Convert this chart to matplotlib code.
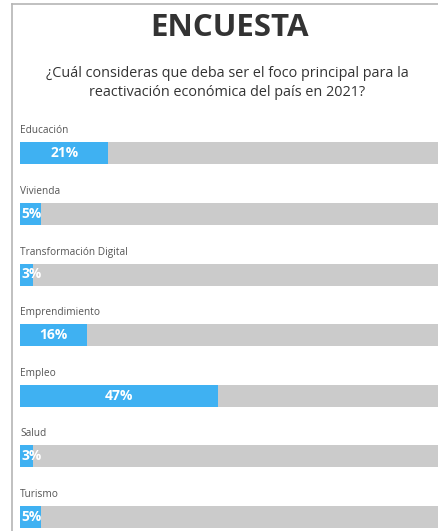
import matplotlib
matplotlib.use('Agg')
import matplotlib.pyplot as plt
from matplotlib.lines import Line2D

plt.rcParams['font.family'] = ['Open Sans', 'DejaVu Sans']

title = 'ENCUESTA'
question = '¿Cuál consideras que deba ser el foco principal para la\nreactivación económica del país en 2021?'
categories = ['Educación', 'Vivienda', 'Transformación Digital', 'Emprendimiento',
              'Empleo', 'Salud', 'Turismo']
values = [21, 5, 3, 16, 47, 3, 5]

blue = '#3fb1f2'
track = '#cbcbcb'

W, H = 439, 531
fig = plt.figure(figsize=(W / 100, H / 100), dpi=100)
fig.patch.set_facecolor('white')

# frame lines (left and top)
fig.add_artist(Line2D([12 / W, 12 / W], [0, 1 - 4 / H], color='#b5b5b5', lw=1.2))
fig.add_artist(Line2D([12 / W, 1], [1 - 4 / H, 1 - 4 / H], color='#b5b5b5', lw=1.2))

fig.text(230 / W, 1 - 28 / H, title, ha='center', va='center', fontsize=22.5,
         fontweight='bold', color='#333333')
fig.text(227 / W, 1 - 83 / H, question, ha='center', va='center', fontsize=10.4,
         color='#333333', linespacing=1.4)

ax = fig.add_axes([0, 0, 1, 1])
ax.set_axis_off()
px = 4.21      # pixels per percent
x0 = 20        # left edge of bars in pixels
row = 60.6
y0 = 153.3
ax.set_xlim(-x0 / px, (W - x0) / px)
ax.set_ylim((H - y0) / row, -y0 / row)

ypos = list(range(len(categories)))
bh = 22 / row
ax.barh(ypos, [100] * len(values), height=bh, color=track, left=0)
ax.barh(ypos, values, height=bh, color=blue, left=0)

for i, (cat, v) in enumerate(zip(categories, values)):
    ax.text(0, i - 0.37, cat, ha='left', va='center', fontsize=7.3, color='#555555')
    if v >= 10:
        ax.text(v / 2, i, f'{v}%', ha='center', va='center', fontsize=10,
                fontweight='bold', color='white')
    else:
        ax.text(0.4, i, f'{v}%', ha='left', va='center', fontsize=10,
                fontweight='bold', color='white')

fig.savefig('out.png', dpi=100)
